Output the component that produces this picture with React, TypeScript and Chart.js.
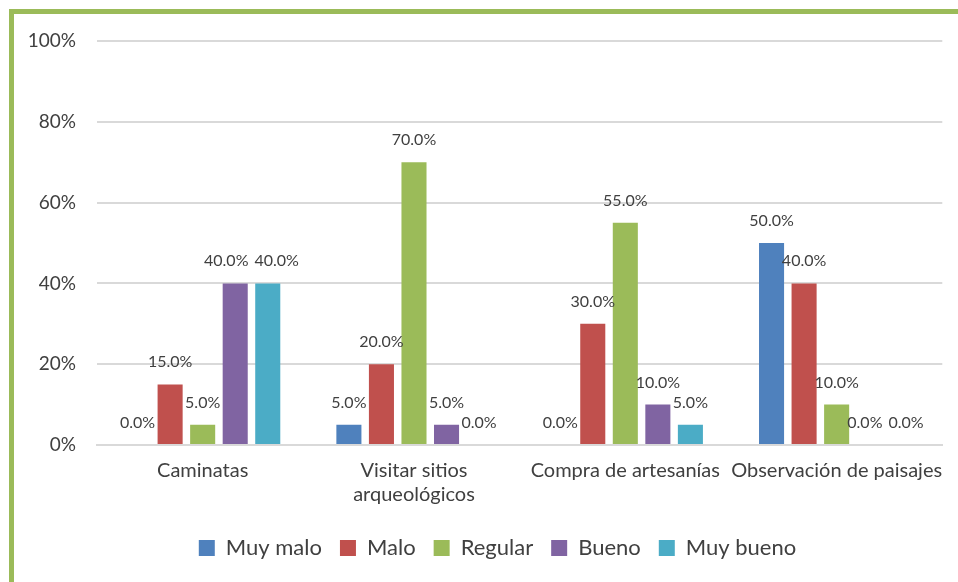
import React, { useEffect, useRef } from "react";
import { Chart, registerables } from "chart.js";

Chart.register(...registerables);

const categories: (string | string[])[] = [
  "Caminatas",
  ["Visitar sitios", "arqueológicos"],
  "Compra de artesanías",
  "Observación de paisajes",
];
const seriesNames = ["Muy malo", "Malo", "Regular", "Bueno", "Muy bueno"];
const muyMalo = [0, 5, 0, 50];
const malo = [15, 20, 30, 40];
const regular = [5, 70, 55, 10];
const bueno = [40, 5, 10, 0];
const muyBueno = [40, 0, 5, 0];
const colors = ["#4F81BD", "#C0504D", "#9BBB59", "#8064A2", "#4BACC6"];
const yTicks = [0, 20, 40, 60, 80, 100];

const FONT = "Lato, 'Open Sans', sans-serif";
const TEXT = "#404040";

const dataLabels = {
  id: "dataLabels",
  afterDatasetsDraw(chart: any) {
    const ctx = chart.ctx;
    ctx.save();
    ctx.font = `16px ${FONT}`;
    ctx.fillStyle = TEXT;
    ctx.textAlign = "center";
    ctx.textBaseline = "alphabetic";
    const nCat = chart.data.labels.length;
    for (let j = 0; j < nCat; j++) {
      const items: { x: number; y: number; w: number; t: string }[] = [];
      chart.data.datasets.forEach((ds: any, i: number) => {
        const el: any = chart.getDatasetMeta(i).data[j];
        const t = (ds.data[j] as number).toFixed(1) + "%";
        items.push({ x: el.x, y: el.y - 17, w: ctx.measureText(t).width, t });
      });
      // simple collision avoidance between neighbouring labels
      for (let k = 1; k < items.length; k++) {
        const a = items[k - 1];
        const b = items[k];
        if (Math.abs(a.y - b.y) < 14) {
          const need = (a.w + b.w) / 2 + 6;
          const d = b.x - a.x;
          if (d < need) {
            const s = (need - d) / 2;
            a.x -= s;
            b.x += s;
          }
        }
      }
      items.forEach((it) => ctx.fillText(it.t, it.x, it.y));
    }
    ctx.restore();
  },
};

const shiftLegend = {
  id: "shiftLegend",
  afterLayout(chart: any) {
    if (chart.legend) {
      chart.legend.left += 52;
    }
  },
};

export default function App() {
  const ref = useRef<HTMLCanvasElement>(null);
  useEffect(() => {
    if (!ref.current) return;
    const all = [muyMalo, malo, regular, bueno, muyBueno];
    const chart = new Chart(ref.current, {
      type: "bar",
      data: {
        labels: categories,
        datasets: all.map((d, i) => ({
          label: seriesNames[i],
          data: d,
          backgroundColor: colors[i],
          categoryPercentage: 0.77,
          barPercentage: 0.77,
        })),
      },
      options: {
        responsive: false,
        animation: false,
        layout: { padding: { left: 0, right: 15, top: 41, bottom: 13 } },
        scales: {
          x: {
            grid: { display: false, drawTicks: false },
            border: { color: "#D9D9D9", width: 2 },
            ticks: {
              color: TEXT,
              font: { family: FONT, size: 20 },
              maxRotation: 0,
              minRotation: 0,
              autoSkip: false,
              padding: 14,
            },
            afterFit: (s: any) => {
              s.height = 74;
            },
          },
          y: {
            min: 0,
            max: 100,
            afterBuildTicks: (s: any) => {
              s.ticks = yTicks.map((v) => ({ value: v }));
            },
            grid: { color: "#D9D9D9", lineWidth: 2, drawTicks: false },
            border: { display: false },
            ticks: {
              color: TEXT,
              font: { family: FONT, size: 19 },
              padding: 21,
              callback: (v: any) => v + "%",
            },
            afterFit: (s: any) => {
              s.width = 97;
            },
          },
        },
        plugins: {
          legend: {
            position: "bottom",
            labels: {
              color: TEXT,
              font: { family: FONT, size: 22 },
              boxWidth: 16,
              boxHeight: 16,
              padding: 18,
            },
          },
          tooltip: { enabled: false },
        },
      },
      plugins: [dataLabels, shiftLegend],
    });
    return () => chart.destroy();
  }, []);
  return (
    <div style={{ position: "fixed", left: 0, top: 0, width: 958, height: 582, background: "#fff", overflow: "hidden" }}>
      <div
        style={{
          position: "absolute",
          left: 9,
          top: 9,
          width: 1000,
          height: 1000,
          borderLeft: "5px solid #9BBB59",
          borderTop: "5px solid #9BBB59",
        }}
      />
      <canvas ref={ref} width={958} height={582} style={{ position: "absolute", left: 0, top: 0 }} />
    </div>
  );
}
